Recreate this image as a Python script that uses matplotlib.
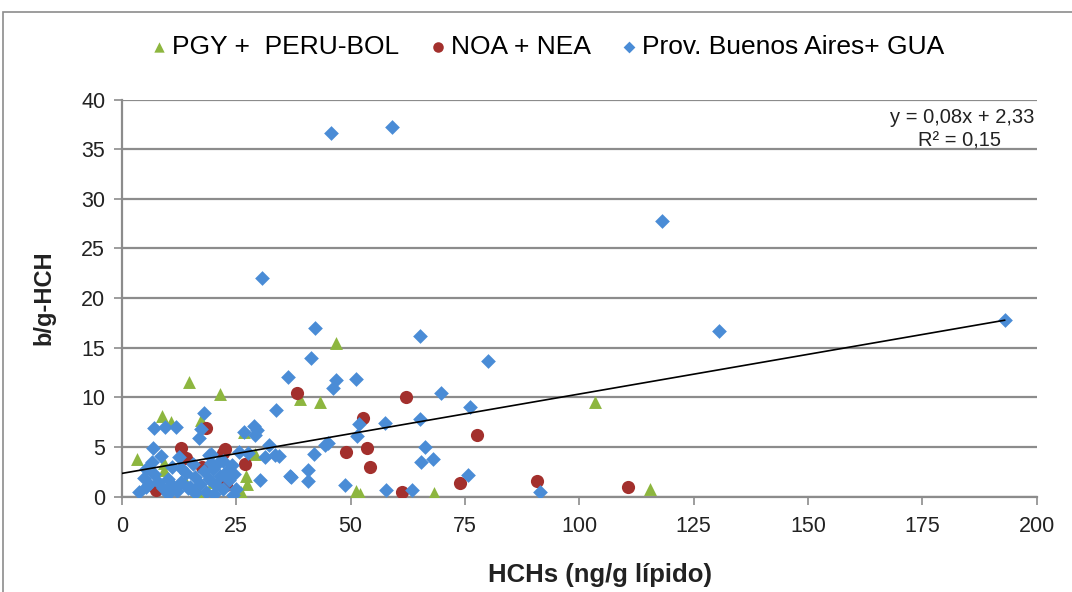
import matplotlib
matplotlib.use("Agg")
import matplotlib.pyplot as plt
from matplotlib.patches import Rectangle
import numpy as np

plt.rcParams['font.family'] = ['Liberation Sans', 'DejaVu Sans']

# PGY + PERU-BOL
pgy_x = [3.2, 8.8, 10.8, 14.6, 21.4, 17.3, 9.2, 9.2, 29.1, 26.7, 27.2, 27.4, 19.9,
         26.1, 13.7, 16.5, 46.8, 39.0, 43.4, 51.1, 52.1, 68.3, 103.4, 115.4]
pgy_y = [3.8, 8.1, 7.5, 11.5, 10.3, 7.7, 3.4, 2.7, 4.3, 6.5, 2.1, 1.3, 1.5,
         0.5, 1.6, 0.6, 15.5, 9.8, 9.5, 0.6, 0.3, 0.4, 9.5, 0.8]

# NOA + NEA
noa_x = [38.3, 62.2, 52.7, 77.7, 48.9, 53.7, 54.3, 61.3, 73.9, 90.7, 110.6,
         18.5, 12.9, 14.0, 22.5, 22.0, 27.0, 17.5, 22.8, 7.5]
noa_y = [10.4, 10.0, 7.9, 6.2, 4.5, 4.9, 3.0, 0.5, 1.4, 1.6, 0.95,
         6.9, 4.9, 3.9, 4.8, 4.4, 3.3, 3.0, 1.2, 0.7]

# Prov. Buenos Aires + GUA
bsas_x = [45.8, 59.0, 118.1, 30.7, 130.6, 193.0, 42.3, 65.1, 41.4, 80.1, 36.3,
          46.8, 46.1, 51.2, 69.8, 33.8, 76.2, 51.9, 57.5, 65.1, 51.3, 44.3, 45.0,
          33.5, 42.1, 66.3, 65.3, 68.0, 36.9, 40.8, 40.8, 48.7, 57.8, 63.4, 75.6,
          91.4,
          18.0, 7.1, 9.5, 11.9, 17.3, 16.9, 28.8, 29.5, 29.0, 26.6, 32.1, 34.3,
          31.2, 25.7, 27.5, 19.1, 36.8, 30.1, 6.7, 8.5, 6.6, 12.4, 19.5, 4.9,
          3.8, 5.3, 5.3, 20.2, 24.2, 25.0,
          8.0, 9.0, 10.0, 11.0, 12.0, 13.0, 14.0, 15.0, 16.0, 17.0, 18.0, 18.5,
          19.0, 20.0, 20.5, 21.0, 21.5, 22.0, 23.0, 23.5, 24.0, 24.5, 11.0, 13.0,
          15.5, 16.0, 10.0, 7.0, 6.0, 19.5, 22.0, 14.5]
bsas_y = [36.6, 37.2, 27.8, 22.0, 16.7, 17.8, 17.0, 16.2, 14.0, 13.7, 12.0,
          11.7, 10.9, 11.8, 10.4, 8.7, 9.0, 7.3, 7.4, 7.8, 6.1, 5.2, 5.4,
          4.2, 4.3, 5.0, 3.5, 3.8, 2.0, 2.7, 1.6, 1.2, 0.7, 0.7, 2.2,
          0.5,
          8.4, 6.9, 7.0, 7.0, 6.8, 5.9, 7.1, 6.7, 6.2, 6.5, 5.2, 4.1,
          3.95, 4.5, 4.4, 4.2, 2.1, 1.7, 4.9, 4.1, 3.5, 3.95, 4.3, 1.9,
          0.5, 1.0, 2.8, 0.3, 0.15, 0.8,
          1.5, 0.9, 1.8, 1.2, 0.6, 1.5, 2.4, 1.0, 2.0, 1.3, 2.6, 0.5,
          1.8, 2.8, 1.2, 3.4, 2.1, 0.8, 2.6, 1.7, 3.2, 2.3, 3.0, 2.9,
          3.3, 0.4, 0.3, 2.3, 1.3, 3.4, 3.6, 0.9]

slope, intercept = 0.08, 2.33
r2 = 0.15
x_ticks = [0, 25, 50, 75, 100, 125, 150, 175, 200]
y_ticks = [0, 5, 10, 15, 20, 25, 30, 35, 40]

green = '#8DB63F'
red = '#A3302D'
blue = '#4A8CD6'
grid_c = '#8C8C8C'
text_c = '#222222'

fig = plt.figure(figsize=(10.72, 5.92), dpi=100)
ax = fig.add_axes([0.1137, 0.1613, 0.8533, 0.6703])

ms = 75
ax.scatter(pgy_x, pgy_y, marker='^', s=ms * 1.15, color=green, zorder=3,
           linewidths=0, label='PGY +  PERU-BOL')
ax.scatter(noa_x, noa_y, marker='o', s=ms * 1.2, color=red, zorder=3,
           linewidths=0, label='NOA + NEA')
ax.scatter(bsas_x, bsas_y, marker='D', s=ms * 0.75, color=blue, zorder=3,
           linewidths=0, label='Prov. Buenos Aires+ GUA')

xl = np.array([0, max(bsas_x)])
ax.plot(xl, slope * xl + intercept, color='black', lw=1.2, zorder=4)

ax.set_xlim(0, 200)
ax.set_ylim(0, 40)
ax.set_xticks(x_ticks)
ax.set_yticks(y_ticks)
ax.yaxis.grid(True, color=grid_c, lw=1.6)
ax.set_axisbelow(True)
for s in ['top', 'right']:
    ax.spines[s].set_visible(False)
for s in ['left', 'bottom']:
    ax.spines[s].set_color(grid_c)
    ax.spines[s].set_linewidth(1.6)
ax.tick_params(axis='both', colors=grid_c, length=6, width=1.2,
               labelsize=15.5, labelcolor=text_c)
ax.tick_params(axis='x', pad=8)
ax.tick_params(axis='y', pad=6)

fig.text(600 / 1072, 1 - 575 / 592, 'HCHs (ng/g lípido)', fontsize=18.5,
         fontweight='bold', ha='center', va='center', color=text_c)
fig.text(44 / 1072, 1 - 298 / 592, 'b/g-HCH', fontsize=17, fontweight='bold',
         rotation=90, ha='center', va='center', color=text_c)

ax.text(0.997, 0.955, 'y = 0,08x + 2,33', transform=ax.transAxes,
        ha='right', va='center', fontsize=14.5, color=text_c)
ax.text(0.916, 0.897, 'R² = 0,15', transform=ax.transAxes,
        ha='center', va='center', fontsize=14.5, color=text_c)

fig.legend(loc='center left', bbox_to_anchor=(151 / 1072, 1 - 47 / 592),
           ncol=3, frameon=False, fontsize=19, handlelength=0.6,
           handletextpad=0.2, columnspacing=1.15, markerscale=0.8,
           borderaxespad=0, borderpad=0)

fig.patches.append(Rectangle((3 / 1072, -0.05), 1.2, 1 - 12 / 592 + 0.05,
                             transform=fig.transFigure, fill=False,
                             edgecolor='#8C8C8C', lw=1.2))

fig.savefig('out.png', dpi=100)
